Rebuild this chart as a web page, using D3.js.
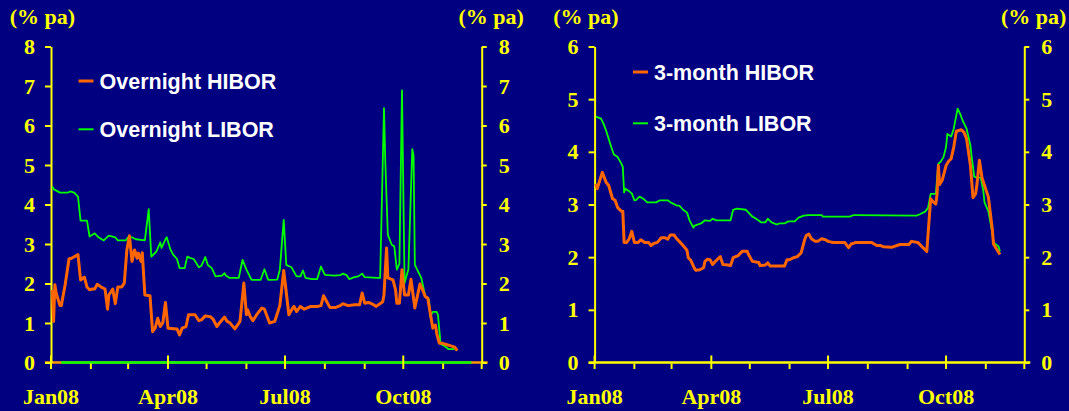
<!DOCTYPE html>
<html>
<head>
<meta charset="utf-8">
<script src="https://cdn.jsdelivr.net/npm/d3@7"></script>
<style>
body{margin:0;background:#000080;}
svg{display:block;}
</style>
</head>
<body>
<div id="chart"></div>
<script>
'use strict';

var year = "2008"
var tickLabels = ["Jan08","Apr08","Jul08","Oct08"]
var unitLabel = "(% pa)"
var legendLeft = ["Overnight HIBOR","Overnight LIBOR"]
var legendRight = ["3-month HIBOR","3-month LIBOR"]

// overnight HIBOR
var onHiborDates = ["01-02","01-03","01-04","01-05","01-08","01-09","01-12","01-15","01-17","01-22","01-24","01-26","01-27","01-29","01-31",
"02-02","02-04","02-06","02-09","02-12","02-14","02-15","02-18","02-20","02-22","02-25","02-27","02-29",
"03-02","03-04","03-06","03-08","03-09","03-11","03-12","03-14","03-18","03-20","03-22","03-24","03-26","03-28","03-30",
"04-01","04-08","04-10","04-12","04-15","04-17","04-22","04-25","04-27","04-30",
"05-04","05-06","05-09","05-11","05-15","05-17","05-19","05-23","05-27","05-30",
"06-01","06-02","06-04","06-06","06-09","06-13","06-15","06-19","06-23","06-27","06-30",
"07-04","07-07","07-08","07-10","07-13","07-16","07-21","07-26","07-29","07-31",
"08-02","08-05","08-09","08-13","08-15","08-19","08-24","08-28","08-30",
"09-01","09-04","09-07","09-10","09-15","09-16","09-18","09-19","09-23","09-25","09-26","09-28","09-30",
"10-01","10-02","10-05","10-07","10-10","10-14","10-17","10-18","10-20","10-22","10-24","10-26","10-27","10-29","10-31",
"11-04","11-07","11-10","11-12"]
var onHiborValues = [1.84,1.04,1.97,1.76,1.44,1.44,1.97,2.62,2.64,2.73,2.09,2.14,2.16,1.91,1.84,
1.86,1.86,1.98,1.91,1.86,1.35,1.71,1.86,1.49,1.91,1.91,2.01,2.85,
3.21,2.56,2.85,2.64,2.77,2.56,2.78,1.71,1.69,0.78,0.87,1.12,0.91,1.01,1.52,
0.87,0.85,0.70,0.87,0.91,1.21,1.21,1.06,1.08,1.18,
1.16,1.10,0.91,1.00,1.15,1.04,1.01,0.85,1.04,2.01,
1.21,1.33,1.16,1.06,1.21,1.38,1.35,1.00,1.04,1.44,2.33,
1.21,1.38,1.42,1.29,1.42,1.35,1.42,1.42,1.44,1.69,
1.57,1.39,1.39,1.44,1.49,1.44,1.46,1.46,1.76,
1.50,1.52,1.48,1.42,1.54,1.71,2.90,2.14,2.09,1.84,1.50,1.50,2.35,
2.01,1.71,1.71,2.11,1.38,1.99,1.76,1.67,1.63,1.25,0.87,0.95,0.74,0.49,0.49,
0.45,0.42,0.39,0.30]

// overnight LIBOR
var onLiborDates = ["01-02","01-03","01-08","01-14","01-16","01-19","01-22","01-24","01-29","01-31",
"02-04","02-07","02-11","02-15","02-20","02-22","02-28",
"03-01","03-04","03-07","03-14","03-17","03-19","03-23","03-26","03-27","03-30","03-31",
"04-03","04-05","04-08","04-10","04-14","04-16","04-18","04-21","04-25","04-27","04-30",
"05-02","05-05","05-08","05-13","05-15","05-16","05-19","05-26","05-29",
"06-01","06-05","06-12","06-15","06-18","06-25","06-27","06-30",
"07-02","07-06","07-10","07-13","07-15","07-17","07-22","07-26","07-29",
"08-01","08-04","08-08","08-13","08-15","08-18","08-20","08-24","08-27","08-30",
"09-01","09-11","09-13","09-16","09-17","09-19","09-22","09-24","09-26","09-28","09-30",
"10-02","10-05","10-08","10-09","10-10","10-15","10-18","10-21","10-22","10-24","10-27","10-28","10-30",
"11-02","11-05","11-10"]
var onLiborValues = [4.46,4.39,4.30,4.30,4.33,4.30,4.20,3.59,3.59,3.19,
3.27,3.17,3.09,3.21,3.17,3.09,3.09,
3.17,3.17,3.12,3.09,3.88,2.68,2.81,3.04,2.90,3.12,3.17,
2.85,2.73,2.62,2.39,2.39,2.68,2.65,2.62,2.41,2.45,2.67,
2.47,2.39,2.18,2.20,2.26,2.20,2.14,2.14,2.60,
2.35,2.09,2.09,2.36,2.09,2.10,2.35,3.61,
2.47,2.41,2.18,2.18,2.33,2.14,2.11,2.11,2.43,
2.22,2.21,2.20,2.21,2.25,2.21,2.11,2.16,2.18,2.25,
2.16,2.14,2.14,6.44,5.10,3.23,2.98,2.94,2.35,2.50,6.89,
2.01,2.36,5.40,5.23,2.47,2.14,1.69,1.60,1.16,1.28,1.28,1.20,0.47,
0.42,0.34,0.34]

// zero line along the left panel's base
var zeroLineDates = ["01-09","11-23"]
var zeroLineValues = [0,0]

// 3-month HIBOR
var m3HiborDates = ["01-02","01-03","01-07","01-10","01-12","01-15","01-17","01-19","01-22","01-23","01-24","01-26","01-28","01-30",
"02-01","02-04","02-06","02-09","02-12","02-14","02-16","02-19","02-22","02-25","02-27","02-29",
"03-03","03-05","03-07","03-10","03-13","03-14","03-16","03-19","03-20","03-23","03-26","03-27","03-29","03-31",
"04-02","04-05","04-08","04-10","04-14","04-16","04-18","04-22","04-25","04-29","04-30",
"05-03","05-08","05-09","05-13","05-15","05-17","05-28","05-30",
"06-01","06-04","06-07","06-10","06-13","06-14","06-16","06-18","06-21","06-23","06-26","06-29",
"07-01","07-05","07-14","07-17","07-19","07-23","07-30",
"08-04","08-08","08-11","08-13","08-20","08-26",
"09-02","09-04","09-09","09-13","09-16","09-19","09-21","09-23","09-24","09-25","09-26","09-28",
"10-01","10-03","10-05","10-07","10-09","10-13","10-15","10-17","10-20","10-22","10-24","10-25","10-27","10-29","10-31",
"11-03","11-06","11-07","11-09","11-12"]
var m3HiborValues = [3.39,3.30,3.61,3.42,3.36,3.11,3.08,2.94,2.87,2.87,2.28,2.28,2.35,2.49,
2.28,2.28,2.33,2.28,2.28,2.22,2.26,2.28,2.37,2.37,2.34,2.42,
2.42,2.35,2.30,2.22,2.13,1.99,1.94,1.78,1.75,1.76,1.80,1.92,1.96,1.95,
1.86,1.94,2.01,1.86,1.85,1.84,1.99,2.03,2.11,2.11,2.05,
1.92,1.90,1.84,1.85,1.89,1.83,1.83,1.95,
1.95,1.99,2.01,2.08,2.35,2.41,2.44,2.35,2.30,2.30,2.35,2.33,
2.30,2.28,2.28,2.18,2.25,2.28,2.28,
2.28,2.22,2.22,2.20,2.19,2.24,
2.24,2.30,2.28,2.18,2.11,3.11,3.05,3.01,3.20,3.74,3.38,3.46,
3.74,3.82,3.87,4.09,4.39,4.42,4.37,4.25,3.74,3.13,3.20,3.36,3.84,3.51,3.36,
3.14,2.54,2.25,2.17,2.05]

// 3-month LIBOR
var m3LiborDates = ["01-02","01-06","01-08","01-10","01-14","01-16","01-19","01-22","01-23","01-24","01-25","01-28","01-30",
"02-01","02-02","02-05","02-08","02-11","02-18","02-21","02-27",
"03-01","03-05","03-07","03-10","03-13","03-15","03-18","03-19","03-24","03-27","03-31",
"04-02","04-05","04-14","04-16","04-18","04-21","04-28",
"05-03","05-06","05-10","05-13","05-15","05-18","05-22","05-24","05-28","05-31",
"06-05","06-08","06-12","06-16","06-26","06-27",
"07-18","07-21",
"09-08","09-11","09-15","09-17","09-19","09-23","09-25","09-27","09-29",
"10-01","10-02","10-05","10-07","10-10","10-12","10-14","10-17","10-20","10-21","10-23","10-25","10-28","10-30","10-31",
"11-03","11-06","11-07","11-11","11-12"]
var m3LiborValues = [4.67,4.63,4.53,4.40,4.09,3.95,3.90,3.77,3.71,3.23,3.30,3.25,3.21,
3.08,3.08,3.15,3.11,3.04,3.04,3.08,3.08,
3.03,2.98,2.98,2.90,2.85,2.70,2.56,2.60,2.64,2.70,2.69,
2.73,2.70,2.70,2.70,2.90,2.92,2.90,
2.77,2.73,2.66,2.66,2.73,2.66,2.62,2.64,2.64,2.68,
2.68,2.75,2.79,2.80,2.80,2.77,
2.77,2.80,
2.79,2.82,2.87,2.94,3.20,3.20,3.77,3.82,3.90,
4.09,4.34,4.29,4.44,4.82,4.72,4.59,4.44,4.12,3.90,3.53,3.51,3.51,3.27,3.04,
2.87,2.47,2.28,2.20,2.11]

var hiborColor = "#ff6600"
var liborColor = "#00ff00"
var axisColor = "#ffff00"

var parseDate = d3.timeParse("%Y-%m-%d")

function makeSeries(dates, values){
	return dates.map(function(d,i){
		return {date: parseDate(year+"-"+d), value: values[i]}
	})
}

var svg = d3.select("#chart").append("svg").attr("width",1069).attr("height",411)

drawPanel({left:51, right:481.7, yMax:8, legend:legendLeft, legendX:78.5, legendY:[81,129.3],
	hibor:makeSeries(onHiborDates,onHiborValues), libor:makeSeries(onLiborDates,onLiborValues),
	zero:makeSeries(zeroLineDates,zeroLineValues), baseColor:"#ff9900"})
drawPanel({left:594.6, right:1024.3, yMax:6, legend:legendRight, legendX:633, legendY:[72,123.3],
	hibor:makeSeries(m3HiborDates,m3HiborValues), libor:makeSeries(m3LiborDates,m3LiborValues),
	zero:null, baseColor:axisColor})

function drawPanel(o){
	var top = 46.5, bottom = 362.5
	var x = d3.scaleTime()
		.domain([new Date(2008,0,1), new Date(2008,11,1)])
		.range([o.left, o.right])
	var y = d3.scaleLinear().domain([0,o.yMax]).range([bottom, top])

	var g = svg.append("g")
	var serif = "'Liberation Serif','Times New Roman',serif"
	var line = d3.line().x(function(d){return x(d.date)}).y(function(d){return y(d.value)})

	// base line
	g.append("line").attr("x1",o.left-6).attr("x2",o.right+6)
		.attr("y1",y(0)).attr("y2",y(0)).attr("stroke",o.baseColor).attr("stroke-width",2.5)
	if(o.zero){
		g.append("path").datum(o.zero).attr("d",line)
			.attr("fill","none").attr("stroke",liborColor).attr("stroke-width",2.5)
	}

	// y axes
	var yl = g.append("g").attr("transform","translate("+o.left+",0)")
		.call(d3.axisLeft(y).ticks(o.yMax).tickSize(6).tickSizeOuter(0).tickPadding(10))
	var yr = g.append("g").attr("transform","translate("+o.right+",0)")
		.call(d3.axisRight(y).ticks(o.yMax).tickSize(5).tickSizeOuter(0).tickPadding(12))
	;[yl,yr].forEach(function(a){
		a.select(".domain").attr("stroke",axisColor).attr("stroke-width",2)
		a.selectAll(".tick line").attr("stroke",axisColor).attr("stroke-width",2)
		a.selectAll(".tick text").attr("fill",axisColor)
			.style("font-family",serif).style("font-weight","bold").style("font-size","22px")
	})

	// x ticks
	var months = d3.timeMonth.range(new Date(2008,0,1), new Date(2008,11,2))
	g.selectAll(".xtick").data(months).enter().append("line")
		.attr("x1",function(d){return x(d)}).attr("x2",function(d){return x(d)})
		.attr("y1",function(d){return d.getMonth()%3==0 ? y(0)-7 : y(0)+1})
		.attr("y2",y(0)+6.5)
		.attr("stroke",axisColor).attr("stroke-width",2)
	var quarters = months.filter(function(d){return d.getMonth()%3==0})
	g.selectAll(".xlab").data(quarters).enter().append("text")
		.text(function(d,i){return tickLabels[i]})
		.attr("x",function(d){return x(d)}).attr("y",y(0)+41.5)
		.attr("text-anchor","middle").attr("fill",axisColor)
		.style("font-family",serif).style("font-weight","bold").style("font-size","22px")

	// unit labels
	;[o.left-8.6, o.right+9.4].forEach(function(px){
		g.append("text").text(unitLabel).attr("x",px).attr("y",24)
			.attr("text-anchor","middle").attr("fill",axisColor)
			.style("font-family",serif).style("font-weight","bold").style("font-size","22px")
	})

	g.append("path").datum(o.libor).attr("d",line)
		.attr("fill","none").attr("stroke",liborColor).attr("stroke-width",1.8).attr("stroke-linejoin","round")
	g.append("path").datum(o.hibor).attr("d",line)
		.attr("fill","none").attr("stroke",hiborColor).attr("stroke-width",3).attr("stroke-linejoin","round")

	// legend
	var cols = [hiborColor, liborColor]
	o.legend.forEach(function(name,i){
		g.append("line").attr("x1",o.legendX).attr("x2",o.legendX+15)
			.attr("y1",o.legendY[i]).attr("y2",o.legendY[i])
			.attr("stroke",cols[i]).attr("stroke-width",i==0?3:2)
		g.append("text").text(name).attr("x",o.legendX+21).attr("y",o.legendY[i]+8)
			.attr("fill","#fff")
			.style("font-family","'Liberation Sans',Arial,sans-serif").style("font-weight","bold").style("font-size","21.5px")
	})
}
</script>
</body>
</html>
